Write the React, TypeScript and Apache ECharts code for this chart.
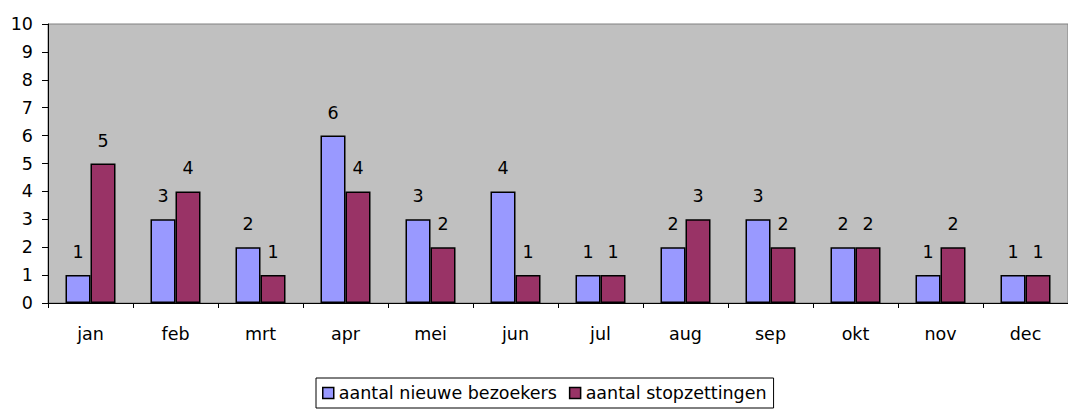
import React, { useEffect, useRef } from "react";
import * as echarts from "echarts";

const months = ["jan", "feb", "mrt", "apr", "mei", "jun", "jul", "aug", "sep", "okt", "nov", "dec"];
const nieuweBezoekers = [1, 3, 2, 6, 3, 4, 1, 2, 3, 2, 1, 1];
const stopzettingen = [5, 4, 1, 4, 2, 1, 1, 3, 2, 2, 2, 1];
const seriesNames = ["aantal nieuwe bezoekers", "aantal stopzettingen"];

const FONT = "'DejaVu Sans', 'Liberation Sans', Arial, sans-serif";
const FS = 17.5;

export default function App() {
  const ref = useRef<HTMLDivElement>(null);
  useEffect(() => {
    if (!ref.current) return;
    const chart = echarts.init(ref.current, undefined, { renderer: "svg" });
    const label = {
      show: true,
      position: "top" as const,
      distance: 14,
      color: "#000",
      fontFamily: FONT,
      fontSize: FS,
    };
    chart.setOption({
      animation: false,
      textStyle: { fontFamily: FONT },
      grid: {
        left: 48,
        top: 24,
        width: 1026,
        height: 279,
        show: true,
        backgroundColor: "#C0C0C0",
        borderColor: "#808080",
        borderWidth: 1,
      },
      legend: {
        left: 316,
        top: 378,
        padding: [6, 7, 6, 6],
        borderColor: "#000",
        borderWidth: 1,
        itemWidth: 11,
        itemHeight: 11,
        itemGap: 12,
        icon: "rect",
        textStyle: { fontFamily: FONT, fontSize: FS, color: "#000" },
        itemStyle: { borderColor: "#000", borderWidth: 1.5 },
        data: seriesNames,
      },
      xAxis: {
        type: "category",
        data: months,
        boundaryGap: true,
        axisLine: { show: true, lineStyle: { color: "#000", width: 1 } },
        axisTick: { show: true, length: 5, lineStyle: { color: "#000" } },
        axisLabel: { color: "#000", fontFamily: FONT, fontSize: FS, margin: 22 },
        splitLine: { show: false },
      },
      yAxis: {
        type: "value",
        min: 0,
        max: 10,
        interval: 1,
        axisLine: { show: true, lineStyle: { color: "#000", width: 1 } },
        axisTick: { show: true, length: 6, lineStyle: { color: "#000" } },
        axisLabel: { color: "#000", fontFamily: FONT, fontSize: FS, margin: 15 },
        splitLine: { show: false },
      },
      series: [
        {
          name: seriesNames[0],
          type: "bar",
          data: nieuweBezoekers,
          barWidth: 25,
          barGap: "0%",
          itemStyle: { color: "#9999FF", borderColor: "#000", borderWidth: 1.5 },
          label,
        },
        {
          name: seriesNames[1],
          type: "bar",
          data: stopzettingen,
          barWidth: 25,
          barGap: "0%",
          itemStyle: { color: "#993366", borderColor: "#000", borderWidth: 1.5 },
          label,
        },
      ],
    });
    return () => chart.dispose();
  }, []);
  return (
    <div
      ref={ref}
      style={{ position: "absolute", left: 0, top: 0, width: 1068, height: 415, background: "#fff" }}
    />
  );
}
